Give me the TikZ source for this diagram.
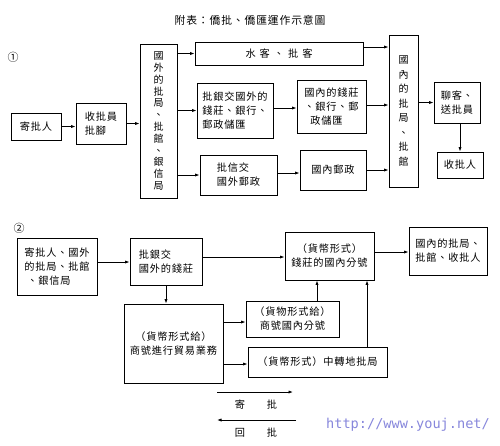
\documentclass[tikz,border=0pt]{standalone}
\usepackage{fontspec}
\usetikzlibrary{arrows.meta}
\newfontfamily\cjk[LetterSpace=8]{Noto Sans CJK TC}
\newfontfamily\wmfont{DejaVu Sans Mono}
\begin{document}
\begin{tikzpicture}[x=1pt,y=-1pt,
  box/.style={draw, line width=0.9pt, inner sep=1pt, align=left,
    font=\cjk\fontsize{10.2}{14}\selectfont},
  vbox/.style={box, align=center},
  arr/.style={-{Latex[length=4.5pt,width=3.2pt]}, line width=0.8pt},
  lbl/.style={font=\cjk\fontsize{10.2}{12}\selectfont}]
\useasboundingbox (0,0) rectangle (500,445);
\fill[white] (0,0) rectangle (500,445);

% title and part marks
\node[font=\cjk\fontsize{10.8}{12}\selectfont] (title) at (250,20) {附表：僑批、僑匯運作示意圖};
\node[lbl, font=\cjk\fontsize{11}{12}\selectfont] (m1) at (13,57) {①};
\node[lbl, font=\cjk\fontsize{11}{12}\selectfont] (m2) at (19,228) {②};

% ---------- part 1 ----------
\node[box, minimum width=50pt, minimum height=27pt] (jpr) at (36,126.5) {寄批人};
\node[box, minimum width=50pt, minimum height=41pt] (sp) at (101,123.5) {收批員\\批腳};
\node[vbox, minimum width=37pt, minimum height=154pt, font=\cjk\fontsize{10}{11.8}\selectfont] (gw) at (158.5,121)
  {國\\外\\的\\批\\局\\、\\批\\館\\、\\銀\\信\\局};
\node[box, minimum width=168pt, minimum height=23pt] (sk) at (279,53.5) {水\hspace{4pt}客\hspace{4pt}、\hspace{4pt}批\hspace{4pt}客};
\node[box, minimum width=76pt, minimum height=55pt] (pyj) at (235,110.5) {批銀交國外的\\錢莊、銀行、\\郵政儲匯};
\node[box, minimum width=69pt, minimum height=53pt] (gn) at (331.5,106.5) {國內的錢莊\\、銀行、郵\\\hspace{6pt}政儲匯};
\node[box, minimum width=77pt, minimum height=40pt] (pxj) at (238.5,175) {批信交\\國外郵政};
\node[box, minimum width=66pt, minimum height=40pt] (gny) at (333,170) {國內郵政};
\node[vbox, minimum width=29pt, minimum height=152pt, font=\cjk\fontsize{10}{14.5}\selectfont] (gnp) at (403.5,111)
  {國\\內\\的\\批\\局\\、\\批\\館};
\node[box, minimum width=46pt, minimum height=41pt] (lk) at (457,102.5) {聊客、\\送批員};
\node[box, minimum width=46pt, minimum height=26pt] (spr) at (460,165) {收批人};

\draw[arr] (jpr.east) -- (jpr.east -| sp.west);
\draw[arr] (sp.east) -- (sp.east -| gw.west);
\draw[arr] (gw.east |- sk.west) -- (sk.west);
\draw[arr] (gw.east |- pyj.west) -- (pyj.west);
\draw[arr] (gw.east |- pxj.west) -- (pxj.west);
\draw[arr] (pyj.east |- 0,108) -- (gn.west |- 0,108);
\draw[arr] (gn.east |- 0,105) -- (gnp.west |- 0,105);
\draw[arr] (sk.east |- 0,47) -- (gnp.west |- 0,47);
\draw[arr] (pxj.east |- 0,173) -- (gny.west |- 0,173);
\draw[arr] (gny.east |- 0,170) -- (gnp.west |- 0,170);
\draw[arr] (gnp.east |- lk.west) -- (lk.west);
\draw[arr] (lk.south -| 460,0) -- (spr.north);

% ---------- part 2 ----------
\node[box, minimum width=80pt, minimum height=57pt] (a) at (57,266.5) {寄批人、國外\\的批局、批館\\\hspace{3pt}、銀信局};
\node[box, minimum width=72pt, minimum height=47pt] (b) at (166,261.5) {批銀交\\國外的錢莊};
\node[box, align=center, minimum width=89pt, minimum height=48pt] (c) at (329.5,256) {（貨幣形式）\\錢莊的國內分號};
\node[box, minimum width=78pt, minimum height=48pt] (d) at (448,251) {國內的批局、\\批館、收批人};
\node[box, align=center, minimum width=99pt, minimum height=79pt] (e) at (173.5,343.5) {（貨幣形式給）\\商號進行貿易業務};
\node[box, align=center, minimum width=93pt, minimum height=36pt] (f) at (292.5,319) {（貨物形式給）\\商號國內分號};
\node[box, minimum width=139pt, minimum height=30pt] (g) at (317.5,362) {（貨幣形式）中轉地批局};

\draw[arr] (a.east |- 0,262) -- (b.west |- 0,262);
\draw[arr] (b.east |- 0,257) -- (c.west |- 0,257);
\draw[arr] (c.east |- 0,252) -- (d.west |- 0,252);
\draw[arr] (b.south) -- (b.south |- e.north);
\draw[arr] (e.east |- 0,322) -- (f.west |- 0,322);
\draw[arr] (e.east |- 0,364) -- (g.west |- 0,364);
\draw[arr] (f.north -| 317,0) -- (c.south -| 317,0);
\draw[arr] (g.north -| 367,0) -- (c.south -| 367,0);

% ---------- legend ----------
\coordinate (ls1) at (217,392);
\coordinate (le1) at (293,392);
\coordinate (ls2) at (296,420);
\coordinate (le2) at (217,420);
\draw[arr] (ls1) -- (le1);
\draw[arr] (ls2) -- (le2);
\node[lbl] (j1) at (240,405) {寄};
\node[lbl] (j2) at (272,405) {批};
\node[lbl] (h1) at (240,433) {回};
\node[lbl] (h2) at (272,433) {批};

% watermark
\node[font=\wmfont\fontsize{13.6}{14}\selectfont, text={rgb,255:red,135;green,135;blue,220}] (wm) at (408,425) {http://www.youj.net/};
\end{tikzpicture}
\end{document}
